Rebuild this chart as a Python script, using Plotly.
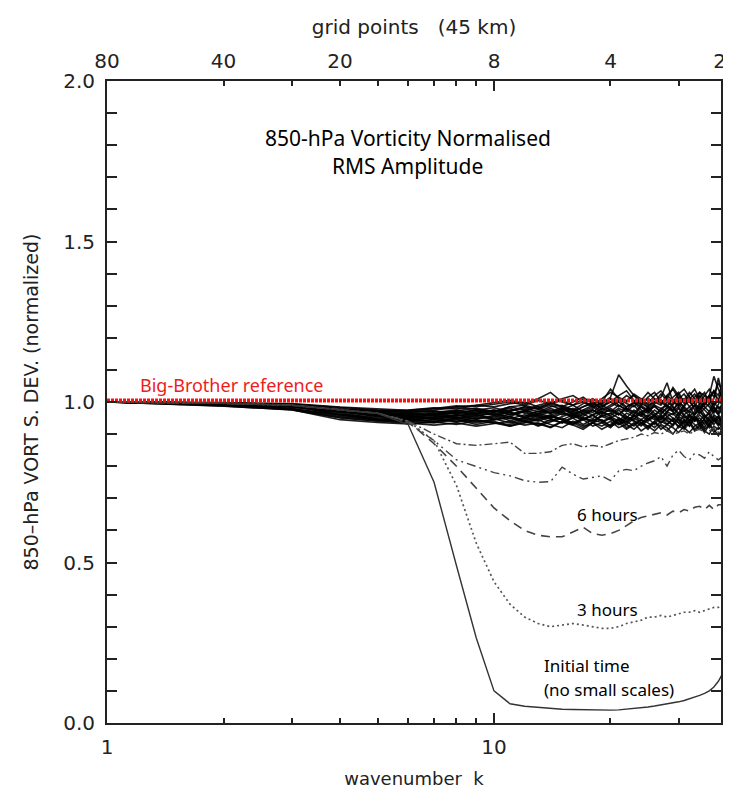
import math
import plotly.graph_objects as go

# ---------------- data ----------------
k = list(range(1, 40))  # wavenumber k

# ensemble members (normalised RMS amplitude x1000), later forecast times
m01 = [1000,997,991,978,972,968,972,965,975,982, 970,985,978,990,975,968,985,995,980,1010, 990,975,1000,985,970,995,1005,990,975,1000, 985,1010,995,980,1000,1020,990,1005,995]
m02 = [1000,993,984,970,962,955,948,952,940,945, 955,938,950,960,945,935,950,940,955,945, 930,950,940,925,945,960,935,950,940,925, 945,935,955,940,920,945,930,950,935]
m03 = [1000,996,990,960,945,950,960,970,962,975, 968,955,972,965,980,960,975,990,970,985, 1000,980,965,990,975,985,970,1000,985,965, 990,1005,975,995,985,970,1000,980,990]
m04 = [1000,991,980,955,944,940,935,945,930,940, 925,935,945,930,920,940,925,935,915,930, 945,920,935,910,925,940,915,930,920,905, 925,940,915,930,910,900,925,915,930]
m05 = [1000,998,994,982,975,972,978,985,990,998, 1005,995,1010,1030,1000,990,1010,1000,995,1015, 1085,1050,1020,1005,1030,1010,995,1020,1040,1010, 1025,1000,1015,1030,1005,1020,1080,1040,1010]
m06 = [1000,995,989,972,958,950,955,948,958,950, 962,970,955,948,965,958,945,960,970,955, 940,965,955,970,945,960,975,955,940,965, 950,960,945,970,955,940,960,950,945]
m07 = [1000,996,991,975,965,962,968,975,965,960, 975,980,970,985,990,975,965,980,1000,1040, 1010,995,985,1010,990,1000,1015,1060,1000,990, 1010,985,1000,1020,995,1010,990,1005,1050]
m08 = [1000,992,978,962,945,942,950,938,945,935, 930,945,925,938,950,935,920,935,945,925, 935,915,930,945,920,935,925,910,930,945, 920,905,925,935,915,930,905,920,910]
m09 = [1000,997,990,977,970,975,982,978,990,985, 995,1000,985,995,1005,990,1000,985,995,1010, 1000,1020,1005,990,1015,1030,1000,1010,1045,1020, 1005,1030,1010,995,1020,1040,1015,1060,1030]
m10 = [1000,996,989,974,960,958,945,960,955,965, 948,960,952,940,955,965,950,935,960,950, 965,945,955,960,940,955,945,965,950,935, 960,945,955,925,950,965,940,955,925]
m11 = [1000,995,990,976,966,960,965,955,968,975, 960,970,985,965,975,990,970,960,980,970, 990,975,960,985,970,955,980,990,970,985, 960,975,990,965,980,995,970,985,975]
m12 = [1000,996,991,973,968,962,958,965,972,960, 968,950,962,975,960,970,955,975,962,980, 965,950,975,960,985,965,950,970,985,960, 975,955,970,985,960,945,975,960,980]
m13 = [1000,988,975,950,940,935,928,935,925,932, 940,928,935,922,940,930,945,925,935,950, 930,940,925,945,935,920,940,930,950,935, 920,945,930,915,940,925,950,935,920]
m14 = [1000,997,992,979,973,970,975,982,978,970, 985,990,980,995,985,1000,1015,995,985,1000, 1020,1035,1005,995,1010,1000,1025,1005,990,1015, 1000,1020,1040,1010,995,1015,1030,1000,1045]
m15 = [1000,996,990,972,963,958,962,970,958,968, 980,965,958,970,985,962,975,968,990,975, 960,985,1000,975,965,990,980,970,995,1005, 980,965,990,975,1000,985,965,995,1020]
m16 = [1000,994,985,962,952,948,940,950,962,945, 955,942,958,948,935,955,945,960,940,925, 950,940,960,935,950,930,955,945,925,950, 935,960,940,950,930,955,945,925,940]
m17 = [1000,997,991,976,970,966,972,962,975,968, 972,985,978,965,980,972,985,1000,975,990, 1005,985,995,1010,980,1000,990,1020,1005,985, 1010,1000,985,1015,1030,995,1010,1075,1020]
m18 = [1000,995,988,970,955,952,960,952,948,958, 942,952,965,955,945,960,950,942,958,965, 950,935,958,945,960,950,935,955,965,945, 930,955,940,960,945,930,955,940,950]
m19 = [1000,987,976,945,936,932,938,930,942,935, 925,940,932,920,938,928,915,935,925,940, 920,930,915,935,925,910,930,920,900,925, 915,935,910,925,905,930,915,895,920]
m20 = [1000,998,995,984,978,974,980,988,985,992, 1000,990,1005,995,1010,1020,1000,990,1010,1030, 1015,1000,1025,1010,995,1020,1035,1010,1000,1025, 1040,1015,1000,1030,1020,1005,1035,1020,1060]
m21 = [1000,994,986,966,948,944,952,960,948,955, 968,952,945,960,972,950,962,948,970,958, 975,955,945,968,980,958,945,970,960,980, 955,940,965,975,950,970,985,960,945]
m22 = [1000,996,989,971,962,955,965,972,980,970, 985,975,990,1000,985,975,995,1010,990,1000, 985,1005,1020,995,985,1010,1000,985,1015,1030, 995,1010,1025,1000,990,1015,1035,1005,990]
m23 = [1000,995,979,958,948,945,938,948,935,945, 950,938,928,945,935,950,930,945,935,920, 945,930,950,935,915,940,955,930,945,920, 940,925,950,935,945,920,940,955,930]
m24 = [1000,997,990,975,960,965,958,968,975,962, 955,972,965,980,968,955,970,985,965,975, 960,980,970,955,975,990,965,980,970,955, 985,970,960,990,975,960,985,970,1000]
m25 = [1000,996,988,969,956,948,952,958,965,972, 962,975,960,952,970,980,962,975,955,965, 980,970,990,965,955,975,960,985,975,995, 970,985,960,975,990,1010,980,965,985]
m26 = [1000,990,977,952,942,938,945,940,952,948, 935,950,940,955,945,930,948,958,940,950, 935,955,942,930,955,945,960,940,930,955, 945,925,950,940,960,935,945,930,955]
members = [m01, m02, m03, m04, m05, m06, m07, m08, m09, m10, m11, m12, m13,
           m14, m15, m16, m17, m18, m19, m20, m21, m22, m23, m24, m25, m26]

initial_time = [1.0,0.996,0.99,0.975,0.965,0.93,0.75,0.49,0.265,0.10,
                0.06,0.052,0.048,0.045,0.043,0.042,0.041,0.040,0.039,0.040,
                0.041,0.043,0.045,0.047,0.050,0.053,0.056,0.059,0.062,0.066,
                0.070,0.075,0.080,0.086,0.092,0.100,0.112,0.130,0.155]
three_hours = [1.0,0.996,0.99,0.975,0.965,0.94,0.88,0.74,0.56,0.44,
               0.37,0.33,0.31,0.30,0.305,0.31,0.305,0.30,0.295,0.295,
               0.30,0.31,0.315,0.32,0.33,0.33,0.335,0.33,0.335,0.34,
               0.345,0.345,0.35,0.345,0.35,0.355,0.36,0.36,0.37]
six_hours = [1.0,0.996,0.99,0.975,0.965,0.94,0.87,0.80,0.73,0.67,
             0.63,0.60,0.585,0.58,0.58,0.595,0.61,0.59,0.585,0.59,
             0.60,0.615,0.63,0.64,0.645,0.65,0.655,0.648,0.66,0.655,
             0.665,0.66,0.672,0.675,0.665,0.678,0.665,0.68,0.68]
nine_hours = [1.0,0.996,0.99,0.975,0.965,0.935,0.88,0.82,0.80,0.78,
              0.77,0.755,0.75,0.752,0.797,0.775,0.76,0.765,0.77,0.755,
              0.785,0.79,0.786,0.80,0.81,0.817,0.83,0.80,0.835,0.85,
              0.83,0.82,0.84,0.835,0.825,0.845,0.83,0.82,0.83]
twelve_hours = [1.0,0.996,0.99,0.975,0.965,0.94,0.90,0.87,0.865,0.87,
                0.875,0.84,0.84,0.845,0.865,0.87,0.86,0.865,0.86,0.87,
                0.88,0.885,0.89,0.90,0.895,0.905,0.90,0.91,0.90,0.905,
                0.91,0.90,0.91,0.915,0.905,0.91,0.92,0.905,0.91]
reference_level = 1.005

k_axis_max = 38.6
bottom_tickvals = [1, 10]
bottom_ticktext = ["1", "10"]
minor_tickvals = [2, 3, 4, 5, 6, 7, 8, 9, 20, 30]
top_tickvals = [1, 2, 4, 10, 20, 38.3]
top_ticktext = ["80", "40", "20", "8", "4", "2"]
y_tickvals = [0, 0.5, 1.0, 1.5, 2.0]
y_ticktext = ["0.0", "0.5", "1.0", "1.5", "2.0"]

# ---------------- figure ----------------
fig = go.Figure()

for m in members:
    fig.add_trace(go.Scatter(x=k, y=[v / 1000 for v in m], mode="lines",
                             line=dict(color="rgba(0,0,0,0.88)", width=1.6),
                             showlegend=False, hoverinfo="skip"))

special = [
    (twelve_hours, "8px,3px,2px,3px", "#444", 1.4),
    (nine_hours, "9px,4px,2px,4px,2px,4px", "#444", 1.4),
    (six_hours, "9px,6px", "#444", 1.6),
    (three_hours, "2px,3px", "#555", 1.7),
    (initial_time, "solid", "#333", 1.4),
]
for vals, dash, col, w in special:
    fig.add_trace(go.Scatter(x=k, y=vals, mode="lines",
                             line=dict(color=col, width=w, dash=dash),
                             showlegend=False, hoverinfo="skip"))

fig.add_trace(go.Scatter(x=[k[0], k[-1]], y=[reference_level, reference_level],
                         xaxis="x2", mode="lines",
                         line=dict(color="#ff1010", width=4, dash="3px,1px"),
                         showlegend=False, hoverinfo="skip"))

fam = "DejaVu Sans, Liberation Sans, sans-serif"
axis_font = dict(family=fam, size=20, color="#222")
lr = [0, math.log10(k_axis_max)]

fig.update_layout(
    width=731, height=790,
    margin=dict(l=99, r=18, t=73, b=68),
    paper_bgcolor="white", plot_bgcolor="white",
    showlegend=False,
    xaxis=dict(type="log", range=lr, tickvals=bottom_tickvals, ticktext=bottom_ticktext,
               ticks="inside", ticklen=10, tickwidth=1.5, tickcolor="#222",
               showline=True, linecolor="#222", linewidth=2, mirror="allticks",
               showgrid=False, zeroline=False, tickfont=axis_font, ticklabelstandoff=5,
               minor=dict(tickvals=minor_tickvals, ticks="inside", ticklen=5,
                          tickwidth=1.5, tickcolor="#222", showgrid=False),
               title=dict(text="wavenumber  k", font=dict(family=fam, size=18, color="#222"), standoff=14)),
    xaxis2=dict(type="log", range=lr, overlaying="x", side="top",
                tickvals=top_tickvals, ticktext=top_ticktext, ticks="",
                showline=False, showgrid=False, zeroline=False, tickfont=axis_font,
                ticklabelstandoff=8,
                title=dict(text="grid points   (45 km)", font=dict(family=fam, size=20, color="#222"), standoff=9)),
    yaxis=dict(range=[0, 2], tickvals=y_tickvals, ticktext=y_ticktext,
               ticks="inside", ticklen=10, tickwidth=1.5, tickcolor="#222",
               showline=True, linecolor="#222", linewidth=2, mirror="allticks",
               showgrid=False, zeroline=False, tickfont=axis_font, ticklabelstandoff=6,
               minor=dict(dtick=0.1, ticks="inside", ticklen=5, tickwidth=1.5,
                          tickcolor="#222", showgrid=False),
               title=dict(text="850\u2013hPa VORT S. DEV. (normalized)", font=dict(family=fam, size=19, color="#222"), standoff=20)),
)

ann_font = dict(family="Noto Sans, DejaVu Sans, sans-serif", size=17, color="black")
notes = [
    ("850-hPa Vorticity Normalised", 0.49, 0.911, "center", dict(ann_font, size=21)),
    ("RMS Amplitude", 0.49, 0.867, "center", dict(ann_font, size=21)),
    ("Big-Brother reference", 0.0505, 0.527, "left", dict(ann_font, size=18, color="#ee1c1c")),
    ("6 hours", 0.762, 0.325, "left", ann_font),
    ("3 hours", 0.762, 0.177, "left", ann_font),
    ("Initial time", 0.708, 0.0894, "left", ann_font),
    ("(no small scales)", 0.708, 0.0524, "left", ann_font),
]
for txt, px, py, anc, f in notes:
    fig.add_annotation(text=txt, x=px, y=py, xref="paper", yref="paper",
                       xanchor=anc, yanchor="middle", showarrow=False, font=f)

fig.write_html("out.html")
